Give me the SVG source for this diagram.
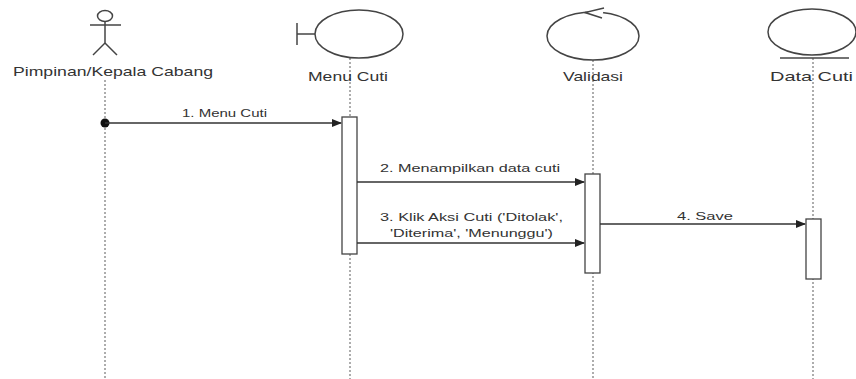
<svg xmlns="http://www.w3.org/2000/svg" width="856" height="379" viewBox="0 0 856 379">
<defs>
<style>
.life{stroke:#777;stroke-width:1.2;stroke-dasharray:2,2;fill:none}
.shape{stroke:#444;stroke-width:1.5;fill:#fff}
.act{stroke:#444;stroke-width:1.3;fill:#fff}
.msg{stroke:#333;stroke-width:1.3;fill:none;marker-end:url(#arr)}
.lbl{font-family:"Liberation Sans",Arial,sans-serif;font-size:13px;fill:#333}
.mlbl{font-family:"Liberation Sans",Arial,sans-serif;font-size:11.5px;fill:#333}
</style>
<marker id="arr" markerWidth="10" markerHeight="8" refX="9" refY="4" orient="auto" markerUnits="userSpaceOnUse">
<path d="M0,0 L10,4 L0,8 Z" fill="#222"/>
</marker>
</defs>
<rect width="856" height="379" fill="#fff"/>
<g id="lifelines">
<line class="life" x1="105" y1="80" x2="105" y2="379"/>
<line class="life" x1="350" y1="58" x2="350" y2="379"/>
<line class="life" x1="593" y1="60" x2="593" y2="379"/>
<line class="life" x1="813" y1="58" x2="813" y2="379"/>
</g>
<g id="actor">
<ellipse class="shape" cx="105" cy="16" rx="7.5" ry="5.5"/>
<line class="shape" x1="90" y1="25" x2="121" y2="25"/>
<line class="shape" x1="105" y1="21.5" x2="105" y2="43"/>
<line class="shape" x1="105" y1="43" x2="93" y2="55"/>
<line class="shape" x1="105" y1="43" x2="117" y2="55"/>
<text class="lbl" x="13" y="76" textLength="200" lengthAdjust="spacingAndGlyphs">Pimpinan/Kepala Cabang</text>
</g>
<g id="menu-cuti">
<line class="shape" x1="297" y1="23" x2="297" y2="45"/>
<line class="shape" x1="297" y1="34" x2="315" y2="34"/>
<ellipse class="shape" cx="359" cy="34" rx="44" ry="24"/>
<text class="lbl" x="308" y="81" textLength="80" lengthAdjust="spacingAndGlyphs">Menu Cuti</text>
</g>
<g id="validasi">
<ellipse class="shape" cx="593" cy="36" rx="46" ry="24"/>
<path class="shape" d="M604,8 L585,12.5 L602,18" fill="none"/>
<text class="lbl" x="563" y="81" textLength="60" lengthAdjust="spacingAndGlyphs">Validasi</text>
</g>
<g id="data-cuti">
<ellipse class="shape" cx="812" cy="32" rx="44" ry="23"/>
<line class="shape" x1="780" y1="58" x2="849" y2="58"/>
<text class="lbl" x="770" y="81" textLength="83" lengthAdjust="spacingAndGlyphs">Data Cuti</text>
</g>
<g id="activations">
<rect class="act" x="342" y="117" width="15" height="137"/>
<rect class="act" x="585" y="174" width="15" height="99"/>
<rect class="act" x="806" y="219" width="15" height="60"/>
</g>
<g id="connectors">
<circle cx="105" cy="123" r="4.5" fill="#111"/>
<line class="msg" x1="105" y1="123" x2="341" y2="123"/>
<line class="msg" x1="357" y1="182" x2="584" y2="182"/>
<line class="msg" x1="357" y1="243" x2="584" y2="243"/>
<line class="msg" x1="600" y1="224" x2="805" y2="224"/>
<text class="mlbl" x="182" y="117" textLength="85" lengthAdjust="spacingAndGlyphs">1. Menu Cuti</text>
<text class="mlbl" x="380" y="172" textLength="180" lengthAdjust="spacingAndGlyphs">2. Menampilkan data cuti</text>
<text class="mlbl" x="380" y="221" textLength="183" lengthAdjust="spacingAndGlyphs">3. Klik Aksi Cuti ('Ditolak',</text>
<text class="mlbl" x="390" y="237" textLength="163" lengthAdjust="spacingAndGlyphs">'Diterima', 'Menunggu')</text>
<text class="mlbl" x="677" y="220" textLength="56" lengthAdjust="spacingAndGlyphs">4. Save</text>
</g>
</svg>
